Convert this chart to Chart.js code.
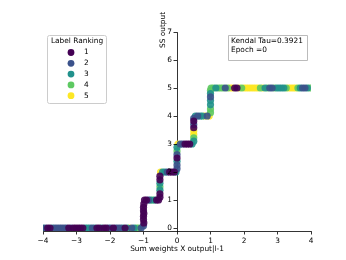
<!DOCTYPE html>
<html><head><meta charset="utf-8">
<script src="https://cdn.jsdelivr.net/npm/chart.js@4/dist/chart.umd.min.js"></script>
<style>html,body{margin:0;padding:0;background:#fff}#wrap{width:346px;height:260px;position:relative}</style>
</head><body><div id="wrap"><canvas id="c" width="346" height="260"></canvas></div>
<script>
const rankLabels = ['1', '2', '3', '4', '5'];
const rankColors = ['#440154', '#3b528b', '#21918c', '#5ec962', '#fde725'];
const xTicks = [-4, -3, -2, -1, 0, 1, 2, 3, 4];
const yTicks = [0, 1, 2, 3, 4, 5, 6, 7];
const xTitle = 'Sum weights X output|l-1';
const yTitle = 'SS output';
const legendTitle = 'Label Ranking';
const infoLines = ['Kendal Tau=0.3921', 'Epoch =0'];

const rank1X = [-3.86,-3.79,-3.23,-3.09,-3.02,-2.95,-2.88,-2.81,-2.39,-2.32,-2.18,-2.11,-1.90,-1.55,
  -0.99,-1.0,-1.0,-0.99,-1.0,-1.0,-0.99, -0.97,-0.91,-0.61,-0.55, -0.51,-0.51,-0.51,-0.51,
  -0.22,-0.15,-0.08, 0.0, 0.24,0.31,0.38, 0.5,0.5, 1.72,1.79];
const rank1Y = [0,0,0,0,0,0,0,0,0,0,0,0,0,0,
  0.18,0.3,0.42,0.52,0.62,0.74,0.86, 1,1,1,1, 1.1,1.22,1.72,1.85,
  2,2,2, 2.5, 3,3,3, 3.58,3.82, 5,5];

const rank2X = [-3.93,-3.65,-3.58,-3.51,-3.44,-3.37,-3.30,-3.16,-2.53,-2.04,-1.97,-1.83,-1.76,-1.69,-1.35,-1.07,
  -1.0, -0.85, -0.29, 0.0,0.0,0.0, 0.1,0.17, 0.5,0.5, 0.62,0.9, 1.0, 1.44,2.77,2.84,3.75,3.82];
const rank2Y = [0,0,0,0,0,0,0,0,0,0,0,0,0,0,0,0,
  0.08, 1, 2, 2.12,2.25,2.62, 3,3, 3.7,3.92, 4,4, 4.68, 5,5,5,5,5];

const rank3X = [-4.00,-3.72,-2.74,-2.67,-2.60,-2.46,-2.25,-1.62,-1.48,-1.28,
  -0.79,-0.67, -0.51,-0.51, -0.43,-0.36,-0.03, 0.0,0.0, 0.45, 0.5, 0.55,0.69,0.76, 1.0,1.0,1.0,
  1.16,2.63,2.98,3.05,3.12,3.19,3.68,3.89];
const rank3Y = [0,0,0,0,0,0,0,0,0,0,
  1,1, 1.35,1.6, 2,2,2, 2.38,2.88, 3, 3.1, 4,4,4, 4.4,4.55,4.8,
  5,5,5,5,5,5,5,5];

const rank4X = [-1.21,-1.14, -0.73, -0.51, 0.0, 0.5, 1.0,1.0,1.0,
  1.02,1.09,1.23,1.30,1.37,1.51,1.93,2.49,2.70,2.91,3.26,3.61,3.96];
const rank4Y = [0,0, 1, 1.47, 2.75, 3.22, 4.12,4.25,4.92,
  5,5,5,5,5,5,5,5,5,5,5,5,5];

const rank5X = [-1.42, -0.49, 0.03, 0.5,0.5, 0.83,0.96,
  1.58,1.65,1.86,2.00,2.07,2.14,2.21,2.28,2.35,2.42,2.56,3.33,3.40,3.47,3.54];
const rank5Y = [0, 2, 3, 3.34,3.46, 4,4,
  5,5,5,5,5,5,5,5,5,5,5,5,5,5,5];

const allX = [rank1X, rank2X, rank3X, rank4X, rank5X];
const allY = [rank1Y, rank2Y, rank3Y, rank4Y, rank5Y];

function rgba(hex, a) {
  const n = parseInt(hex.slice(1), 16);
  return `rgba(${(n >> 16) & 255},${(n >> 8) & 255},${n & 255},${a})`;
}
const FONT = 'DejaVu Sans';
const FS = 7.4;
Chart.defaults.font.family = FONT;
Chart.defaults.font.size = FS;
Chart.defaults.color = '#000';

const minus = v => String(v).replace('-', '\u2212');

const overlay = {
  id: 'overlay',
  afterDraw(chart) {
    const ctx = chart.ctx;
    const xs = chart.scales.x, ys = chart.scales.y;
    ctx.save();
    ctx.font = `${FS}px "${FONT}"`;
    ctx.fillStyle = '#000';
    ctx.strokeStyle = '#000';
    ctx.lineWidth = 0.8;
    // y ticks and labels, axis crossing at x = 0
    const ax = xs.getPixelForValue(0);
    ctx.textAlign = 'right';
    ctx.textBaseline = 'middle';
    yTicks.forEach(v => {
      const py = Math.round(ys.getPixelForValue(v)) + 0.5;
      ctx.beginPath();
      ctx.moveTo(ax - 3.5, py);
      ctx.lineTo(ax, py);
      ctx.stroke();
      ctx.fillText(minus(v), ax - 5, py);
    });
    // x title
    ctx.textAlign = 'center';
    ctx.fillText(xTitle, (xs.left + xs.right) / 2, 249);
    // y title
    ctx.translate(163, 30);
    ctx.rotate(-Math.PI / 2);
    ctx.fillText(yTitle, 0, 0);
    ctx.restore();

    ctx.save();
    // legend box
    ctx.fillStyle = 'rgba(255,255,255,0.8)';
    ctx.strokeStyle = '#cccccc';
    ctx.lineWidth = 1;
    ctx.beginPath();
    ctx.roundRect(47.5, 35.5, 59, 68, 2);
    ctx.fill();
    ctx.stroke();
    ctx.fillStyle = '#000';
    ctx.font = `${FS}px "${FONT}"`;
    ctx.textAlign = 'center';
    ctx.textBaseline = 'middle';
    ctx.fillText(legendTitle, 77, 41.5);
    rankLabels.forEach((lab, i) => {
      const y = 52.5 + 10.8 * i;
      ctx.beginPath();
      ctx.arc(71, y, 3.4, 0, Math.PI * 2);
      ctx.fillStyle = rankColors[i];
      ctx.fill();
      ctx.fillStyle = '#000';
      ctx.textAlign = 'left';
      ctx.fillText(lab, 84, y);
    });
    // info box
    ctx.fillStyle = '#fff';
    ctx.strokeStyle = '#bbbbbb';
    ctx.beginPath();
    ctx.rect(228.5, 35.5, 79, 25);
    ctx.fill();
    ctx.stroke();
    ctx.fillStyle = '#000';
    ctx.textAlign = 'left';
    infoLines.forEach((t, i) => ctx.fillText(t, 231, 41.5 + 8.8 * i));
    ctx.restore();
  }
};

new Chart(document.getElementById('c'), {
  type: 'scatter',
  data: {
    datasets: rankLabels.map((lab, i) => ({
      label: lab,
      data: allX[i].map((x, j) => ({ x: x, y: allY[i][j] })),
      backgroundColor: rgba(rankColors[i], 0.9),
      borderWidth: 0,
      pointRadius: 3.6,
      pointHoverRadius: 3.6
    }))
  },
  options: {
    responsive: false,
    animation: false,
    events: [],
    layout: { padding: { left: 43, right: 35, top: 32, bottom: 0 } },
    plugins: { legend: { display: false }, tooltip: { enabled: false } },
    scales: {
      x: {
        type: 'linear', position: 'bottom', min: -4, max: 4,
        afterBuildTicks: s => { s.ticks = xTicks.map(v => ({ value: v })); },
        afterFit: s => { s.height = 29; },
        ticks: { callback: v => minus(v), padding: 2, font: { size: FS }, color: '#000', maxRotation: 0 },
        grid: { display: true, drawOnChartArea: false, drawTicks: true, tickLength: 3.5, color: '#000', lineWidth: 0.8 },
        border: { display: true, color: '#000', width: 0.8 },
        title: { display: false }
      },
      y: {
        type: 'linear', position: { x: 0 }, min: -0.107, max: 7,
        afterBuildTicks: s => { s.ticks = yTicks.map(v => ({ value: v })); },
        ticks: { display: false },
        grid: { display: false, drawOnChartArea: false, drawTicks: false },
        border: { display: true, color: '#000', width: 0.8 }
      }
    }
  },
  plugins: [overlay]
});
</script></body></html>
